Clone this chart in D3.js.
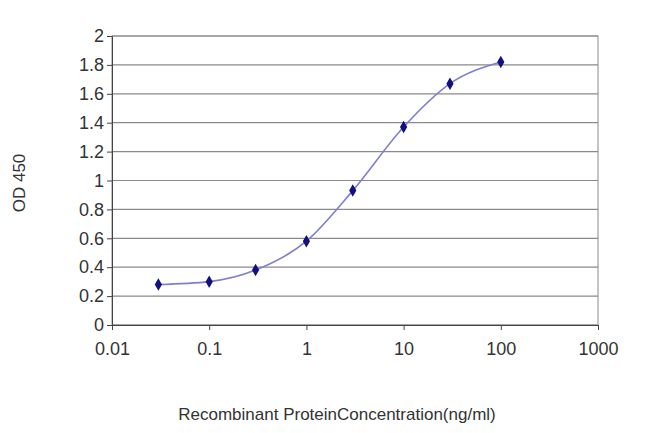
<!DOCTYPE html>
<html><head><meta charset="utf-8">
<script src="https://cdn.jsdelivr.net/npm/d3@7"></script>
<style>body{margin:0;background:#fff}</style>
</head><body><svg id="c" width="650" height="433"></svg>
<script>
const concentrations=[0.03,0.1,0.3,1,3,10,30,100];
const od=[0.28,0.30,0.38,0.58,0.93,1.37,1.67,1.82];
const xTicks=[0.01,0.1,1,10,100,1000];
const xTickLabels=["0.01","0.1","1","10","100","1000"];
const yTicks=[0,0.2,0.4,0.6,0.8,1,1.2,1.4,1.6,1.8,2];

const svg=d3.select("#c");
const L=112,R=598,T=36,B=325;
const x=d3.scaleLog().domain([0.01,1000]).range([L,R]);
const y=d3.scaleLinear().domain([0,2]).range([B,T]);
const font="Arial, Liberation Sans, sans-serif";

svg.append("g").selectAll("line").data(yTicks).join("line")
 .attr("x1",L).attr("x2",R).attr("y1",d=>y(d)).attr("y2",d=>y(d))
 .attr("stroke","#8a8a8a").attr("stroke-width",1.2);
svg.append("rect").attr("x",L).attr("y",T).attr("width",R-L).attr("height",B-T)
 .attr("fill","none").attr("stroke","#8a8a8a");

const yAxis=svg.append("g").attr("transform",`translate(${L},0)`)
 .call(d3.axisLeft(y).tickValues(yTicks).tickSize(5).tickFormat(d=>d3.format("")(+d.toFixed(1))));
const xAxis=svg.append("g").attr("transform",`translate(0,${B})`)
 .call(d3.axisBottom(x).tickValues(xTicks).tickSize(5).tickFormat((d,i)=>xTickLabels[i]));
[yAxis,xAxis].forEach(a=>{a.select(".domain").attr("stroke","#444");
 a.selectAll(".tick line").attr("stroke","#444");
 a.selectAll("text").attr("font-family",font).attr("font-size",18).attr("fill","#333");});
xAxis.selectAll("text").attr("dy","1.2em");

const pts=concentrations.map((c,i)=>[x(c),y(od[i])]);
svg.append("path").attr("d",d3.line().curve(d3.curveMonotoneX)(pts))
 .attr("fill","none").attr("stroke","#7f7fd0").attr("stroke-width",1.6);
svg.append("g").selectAll("path").data(pts).join("path")
 .attr("transform",d=>`translate(${d[0]},${d[1]})`)
 .attr("d",d3.symbol(d3.symbolDiamond,45)).attr("fill","#101080");

svg.append("text").attr("x",337).attr("y",420).attr("text-anchor","middle")
 .attr("font-family",font).attr("font-size",17).attr("fill","#333")
 .text("Recombinant ProteinConcentration(ng/ml)");
svg.append("text").attr("transform","translate(25,183) rotate(-90)").attr("text-anchor","middle")
 .attr("font-family",font).attr("font-size",17).attr("fill","#333").text("OD 450");
</script></body></html>
